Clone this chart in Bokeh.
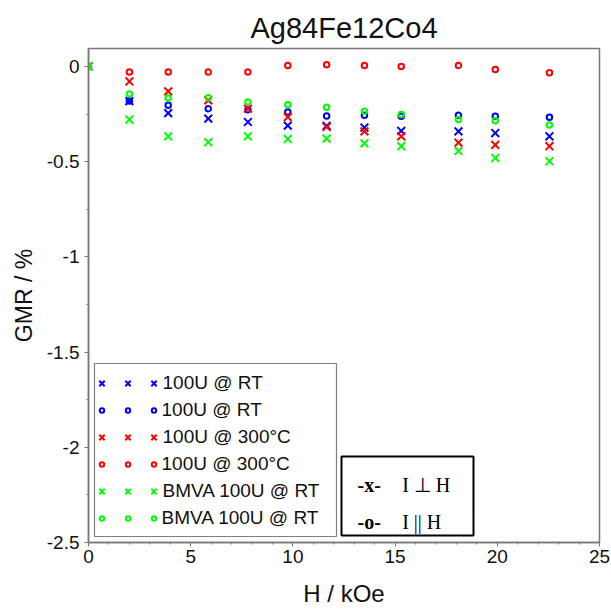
from bokeh.plotting import figure
from bokeh.models import Range1d, FixedTicker, Legend, LegendItem, Label, BoxAnnotation
from bokeh.embed import file_html
from bokeh.resources import INLINE

# ---- data ----
H = [0, 2.0, 3.9, 5.86, 7.8, 9.75, 11.65, 13.5, 15.3, 18.1, 19.9, 22.55]
rt_perp = [0, -0.182, -0.245, -0.274, -0.292, -0.311, -0.312, -0.321, -0.339, -0.341, -0.350, -0.367]
rt_par = [0, -0.182, -0.204, -0.222, -0.227, -0.240, -0.260, -0.257, -0.262, -0.257, -0.262, -0.267]
t300_perp = [0, -0.079, -0.131, -0.178, -0.222, -0.266, -0.318, -0.341, -0.367, -0.400, -0.412, -0.419]
t300_par = [0, -0.030, -0.030, -0.030, -0.030, 0.005, 0.009, 0.005, 0.0, 0.005, -0.016, -0.033]
bmva_perp = [0, -0.279, -0.367, -0.398, -0.367, -0.381, -0.379, -0.404, -0.419, -0.444, -0.481, -0.498]
bmva_par = [0, -0.145, -0.166, -0.164, -0.187, -0.201, -0.215, -0.236, -0.253, -0.279, -0.285, -0.308]

series_values = [rt_perp, rt_par, t300_perp, t300_par, bmva_perp, bmva_par]
series_labels = ["100U @ RT", "100U @ RT", "100U @ 300°C", "100U @ 300°C",
                 "BMVA 100U @ RT", "BMVA 100U @ RT"]
series_colors = ["#0000ff", "#0000ff", "#ff0000", "#ff0000", "#00ff00", "#00ff00"]
series_markers = ["x", "circle", "x", "circle", "x", "circle"]

x_ticks = [0, 5, 10, 15, 20, 25]
x_minor = list(range(0, 26))
y_ticks = [0, -0.5, -1, -1.5, -2, -2.5]
y_tick_labels = ["0", "-0.5", "-1", "-1.5", "-2", "-2.5"]
y_minor = [0, -0.25, -0.5, -0.75, -1, -1.25, -1.5, -1.75, -2, -2.25, -2.5]

title_text = "Ag84Fe12Co4"
x_label = "H / kOe"
y_label = "GMR / %"
note_marks = ["-x-", "-o-"]
note_texts = ["I \u22a5 H", "I || H"]

SANS = "Liberation Sans"
SERIF = "Liberation Serif"
GREY = "#777777"

p = figure(width=611, height=609, output_backend="svg", toolbar_location=None,
           x_range=Range1d(0, 25), y_range=Range1d(-2.5, 0.094),
           min_border_left=88, min_border_right=12, min_border_top=48, min_border_bottom=66)
p.background_fill_color = "white"
p.border_fill_color = "white"
p.outline_line_color = GREY
p.outline_line_width = 1.5
p.grid.visible = False

p.title.text = title_text
p.title.align = "center"
p.title.text_font = SANS
p.title.text_font_size = "29px"
p.title.text_font_style = "normal"
p.title.text_color = "#111111"

p.xaxis.ticker = FixedTicker(ticks=x_ticks, minor_ticks=x_minor)
p.yaxis.ticker = FixedTicker(ticks=y_ticks, minor_ticks=y_minor)
p.yaxis.major_label_overrides = {t: l for t, l in zip(y_ticks, y_tick_labels)}

for ax in (p.xaxis, p.yaxis):
    ax.axis_line_color = GREY
    ax.axis_line_width = 1.5
    ax.major_tick_line_color = GREY
    ax.minor_tick_line_color = GREY
    ax.major_tick_in = 0
    ax.major_tick_out = 4
    ax.minor_tick_in = 0
    ax.minor_tick_out = 2
    ax.major_label_text_font = SANS
    ax.major_label_text_font_size = "19px"
    ax.major_label_text_color = "#111111"
    ax.axis_label_text_font = SANS
    ax.axis_label_text_font_style = "normal"
    ax.axis_label_text_color = "#111111"

p.xaxis.major_label_standoff = 3
p.xaxis.axis_label = x_label
p.xaxis.axis_label_text_font_size = "24px"
p.xaxis.axis_label_text_line_height = 0.5
p.xaxis.axis_label_standoff = 14
p.yaxis.axis_label = y_label
p.yaxis.axis_label_text_font_size = "23px"
p.yaxis.major_label_standoff = 5
p.yaxis.axis_label_standoff = 7

renderers = []
for vals, col, mk in zip(series_values, series_colors, series_markers):
    if mk == "x":
        r = p.scatter(H, vals, marker="x", size=11, line_color=col, line_width=2)
    else:
        r = p.scatter(H, vals, marker="circle", size=5.5, line_color=col, line_width=2,
                      fill_color=None)
    renderers.append(r)

# legend frame
p.add_layout(BoxAnnotation(left=6, right=248, bottom=6, top=179,
                           left_units="screen", right_units="screen",
                           top_units="screen", bottom_units="screen",
                           fill_color="white", fill_alpha=1,
                           line_color="#808080", line_alpha=1, line_width=1.2))

def make_legend(idx, labels, xoff, yoff, gw, standoff):
    items = [LegendItem(label=labels[k], renderers=[renderers[i]]) for k, i in enumerate(idx)]
    return Legend(items=items, location=(xoff, yoff), padding=0, margin=0, spacing=30,
                  glyph_width=gw, glyph_height=24, label_standoff=standoff,
                  border_line_alpha=0, background_fill_alpha=0,
                  label_text_font=SANS, label_text_font_size="19px",
                  label_text_color="#111111", label_text_baseline="middle")

x_rows = [0, 2, 4]
o_rows = [1, 3, 5]
centers = [101, 127, 153]
for ci, cx in enumerate(centers):
    last = ci == len(centers) - 1
    xl = [series_labels[i] for i in x_rows] if last else [" "] * 3
    ol = [series_labels[i] for i in o_rows] if last else [" "] * 3
    p.add_layout(make_legend(x_rows, xl, cx - 9.5 - 88, 39, 19, 0))
    p.add_layout(make_legend(o_rows, ol, cx - 5.5 - 88, 12, 11, 3))

# note box
p.add_layout(BoxAnnotation(left=253, right=385, bottom=7, top=86,
                           left_units="screen", right_units="screen",
                           top_units="screen", bottom_units="screen",
                           fill_color="white", fill_alpha=1,
                           line_color="black", line_alpha=1, line_width=2))
for i, (mk, tx) in enumerate(zip(note_marks, note_texts)):
    yb = 58 - 37 * i
    p.add_layout(Label(x=269, y=yb, x_units="screen", y_units="screen", text=mk,
                       text_font=SERIF, text_font_style="bold", text_font_size="20px",
                       text_baseline="alphabetic", text_color="black"))
    p.add_layout(Label(x=313.7, y=yb, x_units="screen", y_units="screen", text=tx,
                       text_font=SERIF, text_font_size="20px",
                       text_baseline="alphabetic", text_color="black"))

open("out.html", "w").write(file_html(p, INLINE))
